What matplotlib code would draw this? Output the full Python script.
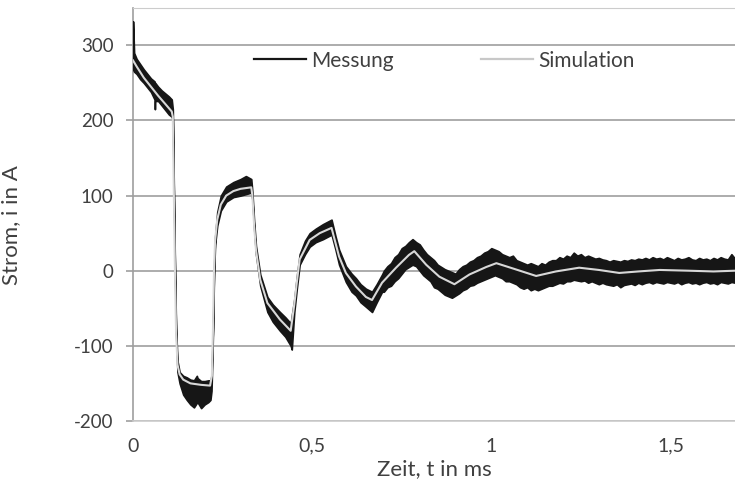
import numpy as np
import matplotlib
matplotlib.use("Agg")
import matplotlib.pyplot as plt
from matplotlib.lines import Line2D

plt.rcParams['font.family'] = ['Lato', 'DejaVu Sans']

# Simulation (key points), time in ms, current in A
t_sim = [0.000, 0.010, 0.030, 0.050, 0.070, 0.090, 0.108, 0.111, 0.114, 0.117,
         0.120, 0.124, 0.130, 0.140, 0.160, 0.190, 0.215, 0.220, 0.223, 0.226,
         0.229, 0.235, 0.245, 0.260, 0.280, 0.300, 0.330, 0.333, 0.338, 0.343,
         0.355, 0.375, 0.410, 0.440, 0.450, 0.457, 0.465, 0.493, 0.521, 0.554,
         0.575, 0.594, 0.622, 0.650, 0.667, 0.695, 0.734, 0.770, 0.785, 0.818,
         0.855, 0.897, 0.939, 0.986, 1.014, 1.060, 1.125, 1.180, 1.245, 1.300,
         1.357, 1.410, 1.470, 1.550, 1.620, 1.680]
i_sim = [280, 272, 257, 245, 233, 222, 212, 205, 100, 0,
         -80, -125, -138, -145, -150, -152, -153, -140, -80, 0,
         40, 68, 88, 100, 106, 109, 111, 100, 60, 28,
         -12, -43, -65, -80, -45, -16, 15, 41, 50, 57,
         19, -3, -21, -35, -39, -16, 4, 21, 26, 8,
         -8, -18, -5, 5, 10, 3, -7, -1, 4, 1,
         -3, -1, 1, 0, -1, 0]

# Messung: upper / lower edge of the noisy band, first part
t_mess_a = [0.000, 0.003, 0.010, 0.020, 0.030, 0.040, 0.050, 0.060, 0.061, 0.062,
            0.070, 0.080, 0.090, 0.100, 0.108, 0.111, 0.114, 0.117, 0.120, 0.124,
            0.130, 0.140, 0.150, 0.160, 0.170, 0.178, 0.180, 0.190, 0.200, 0.210,
            0.216, 0.219, 0.223, 0.226, 0.229, 0.235, 0.245, 0.260, 0.280, 0.300,
            0.315, 0.330, 0.333, 0.338, 0.343, 0.355, 0.375, 0.390, 0.410, 0.425,
            0.440, 0.443, 0.450, 0.457, 0.465, 0.480, 0.493, 0.510, 0.530, 0.554,
            0.565, 0.575, 0.594, 0.610, 0.622, 0.635, 0.650, 0.667, 0.680, 0.695]
hi_mess_a = [332, 290, 282, 275, 268, 262, 256, 252, 250, 250,
             245, 240, 236, 232, 228, 215, 104, 4, -76, -120,
             -135, -140, -142, -145, -146, -140, -143, -147, -147, -146,
             -146, -140, -76, 4, 45, 78, 100, 112, 118, 122,
             126, 122, 105, 65, 33, -5, -35, -45, -55, -62,
             -70, -60, -38, -8, 22, 40, 50, 56, 62, 68,
             46, 28, 6, -4, -10, -18, -24, -28, -18, -5]
lo_mess_a = [268, 265, 262, 255, 250, 244, 238, 228, 215, 226,
             226, 220, 214, 208, 205, 200, 96, -4, -84, -135,
             -150, -165, -172, -178, -182, -176, -175, -183, -178, -175,
             -172, -160, -84, -4, 35, 60, 80, 92, 98, 100,
             102, 104, 95, 55, 22, -20, -55, -68, -80, -88,
             -100, -105, -55, -24, 8, 22, 32, 38, 42, 48,
             28, 8, -15, -28, -33, -42, -48, -55, -42, -28]

# Messung: tail, one value every 0.01 ms from 0.70 to 1.68
hi_mess_b = [0, 6, 10, 18, 22, 30, 33, 38, 42, 38,
             35, 28, 22, 18, 14, 8, 5, 2, 0, -2,
             -4, 2, 6, 8, 12, 14, 18, 20, 24, 26,
             30, 28, 26, 22, 20, 18, 20, 14, 12, 10,
             8, 10, 8, 6, 10, 8, 12, 14, 14, 18,
             16, 20, 18, 24, 20, 22, 18, 20, 18, 16,
             17, 15, 14, 12, 14, 13, 12, 14, 13, 15,
             14, 16, 15, 17, 15, 18, 16, 17, 15, 18,
             16, 14, 17, 15, 16, 18, 15, 14, 17, 15,
             16, 14, 17, 15, 18, 16, 15, 22, 16]
lo_mess_b = [-28, -22, -20, -14, -10, -4, 2, 5, 8, 6,
             0, -6, -10, -14, -22, -24, -28, -32, -34, -36,
             -33, -30, -26, -24, -20, -19, -16, -14, -12, -10,
             -8, -6, -8, -10, -14, -14, -16, -18, -22, -24,
             -22, -26, -24, -26, -24, -22, -20, -20, -18, -16,
             -17, -14, -14, -12, -13, -14, -13, -16, -14, -16,
             -18, -16, -18, -19, -20, -18, -22, -19, -18, -17,
             -19, -16, -18, -16, -15, -17, -15, -16, -17, -15,
             -16, -17, -15, -18, -16, -15, -17, -16, -18, -16,
             -15, -17, -16, -18, -15, -16, -17, -15, -16]
t_mess_b = np.round(np.arange(0.70, 1.685, 0.01), 2)

t_mess = np.concatenate([t_mess_a, t_mess_b])
hi_mess = np.concatenate([hi_mess_a, hi_mess_b])
lo_mess = np.concatenate([lo_mess_a, lo_mess_b])

x_ticks = [0, 0.5, 1, 1.5]
x_ticklabels = ['0', '0,5', '1', '1,5']
y_ticks = [-200, -100, 0, 100, 200, 300]
y_ticklabels = ['-200', '-100', '0', '100', '200', '300']

text_color = '#404040'
grid_color = '#9e9e9e'

fig = plt.figure(figsize=(7.35, 4.9), dpi=100)
ax = fig.add_axes([0.181, 0.141, 0.819, 0.843])

# measurement band, then simulation on top
ax.fill_between(t_mess, lo_mess, hi_mess, color='#161616', lw=1.2,
                edgecolor='#161616', zorder=3)
ax.plot(t_sim, i_sim, color='#d8d8d8', lw=1.5, zorder=4)

ax.set_xlim(0, 1.68)
ax.set_ylim(-200, 350)
ax.set_xticks(x_ticks)
ax.set_xticklabels(x_ticklabels)
ax.set_yticks(y_ticks)
ax.set_yticklabels(y_ticklabels)
ax.tick_params(axis='x', length=0, pad=12, labelsize=14, labelcolor=text_color)
ax.tick_params(axis='y', length=5, width=1.2, color=grid_color, pad=9,
               labelsize=13.5, labelcolor=text_color)

ax.grid(axis='y', color=grid_color, lw=1.2, zorder=1)
ax.spines['right'].set_visible(False)
ax.spines['left'].set_color(grid_color)
ax.spines['left'].set_linewidth(1.2)
ax.spines['top'].set_color('#cccccc')
ax.spines['bottom'].set_color('#cccccc')
ax.spines['bottom'].set_linewidth(1.2)

ax.set_xlabel('Zeit, t in ms', fontsize=16, color=text_color, labelpad=3)
ax.set_ylabel('Strom, i in A', fontsize=16, color=text_color)
ax.yaxis.set_label_coords(-0.186, 0.475)

handles = [Line2D([], [], color='#161616', lw=1.6),
           Line2D([], [], color='#c8c8c8', lw=1.6)]
ax.legend(handles, ['Messung', 'Simulation'], loc='center',
          bbox_to_anchor=(0.517, 0.872), ncol=2, frameon=False,
          fontsize=15, handlelength=2.5, handletextpad=0.25,
          columnspacing=4.2, labelcolor=text_color)

fig.savefig('out.png', dpi=100)
